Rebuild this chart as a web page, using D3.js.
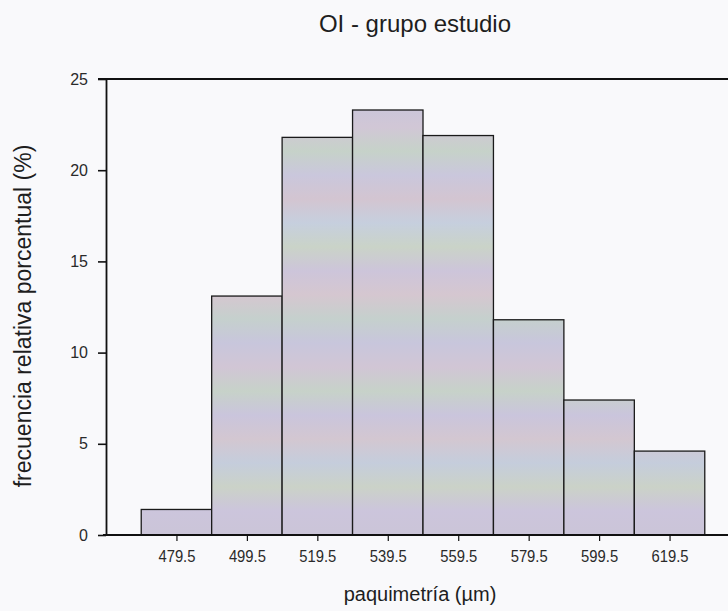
<!DOCTYPE html>
<html>
<head>
<meta charset="utf-8">
<script src="https://cdn.jsdelivr.net/npm/d3@7"></script>
<style>
  html, body { margin: 0; padding: 0; background: #f9f9fb; }
  svg { display: block; font-family: "Liberation Sans", Arial, sans-serif; }
</style>
</head>
<body>
<svg id="chart" width="728" height="611"></svg>
<script>
// ---- data ----
const binCenters = [479.5, 499.5, 519.5, 539.5, 559.5, 579.5, 599.5, 619.5];
const frequencies = [1.4, 13.1, 21.8, 23.3, 21.9, 11.8, 7.4, 4.6];
const yTicks = [0, 5, 10, 15, 20, 25];
const xTickLabels = ["479.5", "499.5", "519.5", "539.5", "559.5", "579.5", "599.5", "619.5"];
const binWidth = 20;
const titleText = "OI - grupo estudio";
const xTitle = "paquimetría (\u00b5m)";
const yTitle = "frecuencia relativa porcentual (%)";

// ---- layout ----
const svg = d3.select("#chart");
const plotLeft = 106, plotTop = 79, plotBottom = 535, plotRight = 740;

const x = d3.scaleLinear().domain([459.5, 639.5]).range([plotLeft, plotRight]);
const y = d3.scaleLinear().domain([0, 25]).range([plotBottom, plotTop]);

// iridescent band texture for bars
const defs = svg.append("defs");
const grad = defs.append("linearGradient")
  .attr("id", "irid").attr("gradientUnits", "userSpaceOnUse")
  .attr("x1", 0).attr("x2", 0).attr("y1", plotTop).attr("y2", plotBottom);
const bandColors = ["#c9cfcc", "#c9c6da", "#d1c7d6", "#c6d2c9", "#cac7dc", "#d3c5d1",
  "#c6cfde", "#cad3c8", "#cdc5da", "#d5c7d0", "#c5d0cd", "#c8c6dc", "#d1c6d5",
  "#c7d2c9", "#cac5dc", "#d3c7d1", "#c5cddc", "#cbd2c8", "#ccc5dc", "#cbc5d8"];
bandColors.forEach((c, i) => {
  grad.append("stop").attr("offset", i / (bandColors.length - 1)).attr("stop-color", c);
});

// bars
svg.append("g").selectAll("rect")
  .data(binCenters.map((c, i) => ({ c, v: frequencies[i] })))
  .join("rect")
  .attr("x", d => x(d.c - binWidth / 2))
  .attr("width", d => x(d.c + binWidth / 2) - x(d.c - binWidth / 2))
  .attr("y", d => y(d.v))
  .attr("height", d => y(0) - y(d.v))
  .attr("fill", "url(#irid)")
  .attr("stroke", "#1a1a1a")
  .attr("stroke-width", 1.3);

// frame: top line and right edge (off-canvas)
svg.append("line")
  .attr("x1", plotLeft - 8).attr("x2", plotRight)
  .attr("y1", plotTop).attr("y2", plotTop)
  .attr("stroke", "#111").attr("stroke-width", 1.8);
svg.append("line")
  .attr("x1", plotRight).attr("x2", plotRight)
  .attr("y1", plotTop).attr("y2", plotBottom)
  .attr("stroke", "#111").attr("stroke-width", 1.8);

// y axis
const yAxis = d3.axisLeft(y).tickValues(yTicks).tickFormat(d3.format("d"))
  .tickSize(8).tickSizeOuter(0).tickPadding(10);
const gy = svg.append("g").attr("transform", `translate(${plotLeft},0)`).call(yAxis);
gy.select(".domain").attr("stroke", "#111").attr("stroke-width", 1.8);
gy.selectAll(".tick line").attr("stroke", "#111").attr("stroke-width", 1.6);
gy.selectAll(".tick text").attr("font-size", 16).attr("fill", "#2a2a2a")
  .attr("font-family", "'Liberation Sans', Arial, sans-serif");

// x axis
const xAxis = d3.axisBottom(x).tickValues(binCenters)
  .tickFormat((d, i) => xTickLabels[i])
  .tickSize(6).tickSizeOuter(0).tickPadding(9);
const gx = svg.append("g").attr("transform", `translate(0,${plotBottom})`).call(xAxis);
gx.select(".domain").attr("d", `M${plotLeft - 3},0H${plotRight}`)
  .attr("stroke", "#111").attr("stroke-width", 1.8);
gx.selectAll(".tick line").attr("stroke", "#111").attr("stroke-width", 1.2);
gx.selectAll(".tick text").attr("font-size", 17).attr("fill", "#2a2a2a")
  .attr("textLength", 37).attr("lengthAdjust", "spacingAndGlyphs")
  .attr("font-family", "'Liberation Sans', Arial, sans-serif");

// titles
svg.append("text")
  .attr("x", 415).attr("y", 32)
  .attr("text-anchor", "middle")
  .attr("font-size", 24).attr("fill", "#1e1e1e")
  .text(titleText);

svg.append("text")
  .attr("x", 420).attr("y", 601)
  .attr("text-anchor", "middle")
  .attr("font-size", 20).attr("fill", "#1e1e1e")
  .text(xTitle);

svg.append("text")
  .attr("transform", `translate(31,316) rotate(-90)`)
  .attr("text-anchor", "middle")
  .attr("font-size", 23).attr("fill", "#1e1e1e")
  .text(yTitle);
</script>
</body>
</html>
